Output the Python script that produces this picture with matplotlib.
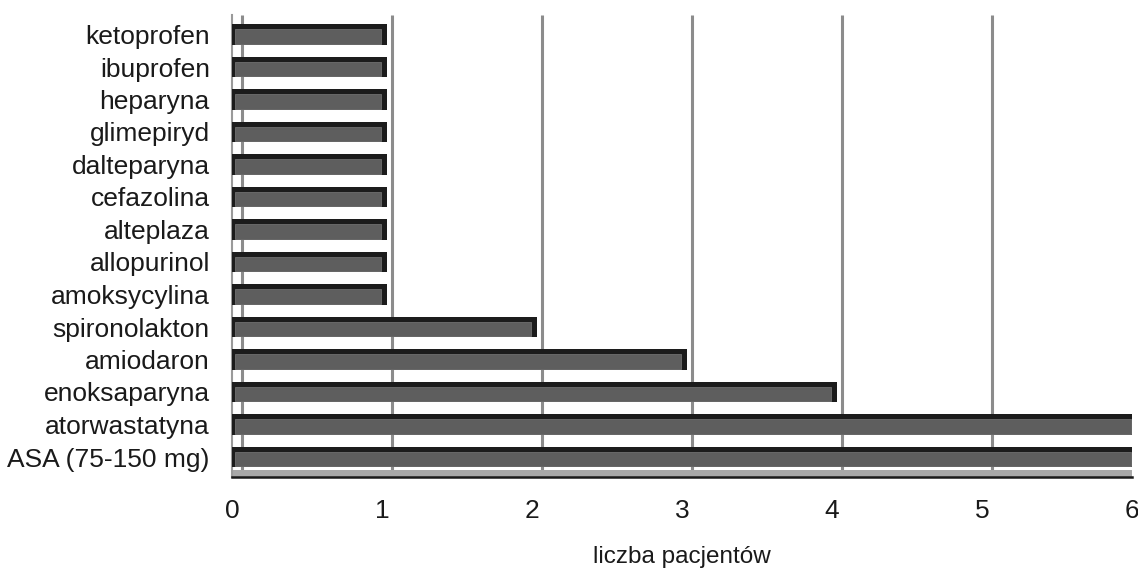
import numpy as np
import matplotlib.pyplot as plt
from matplotlib.patches import Rectangle
import matplotlib.transforms as mtransforms

# data, listed bottom to top as drawn
drugs = ['ASA (75-150 mg)', 'atorwastatyna', 'enoksaparyna', 'amiodaron',
         'spironolakton', 'amoksycylina', 'allopurinol', 'alteplaza',
         'cefazolina', 'dalteparyna', 'glimepiryd', 'heparyna',
         'ibuprofen', 'ketoprofen']
patients = [6, 6, 4, 3, 2, 1, 1, 1, 1, 1, 1, 1, 1, 1]
xticks = [0, 1, 2, 3, 4, 5, 6]

plt.rcParams['font.family'] = ['Liberation Sans', 'DejaVu Sans']

fig = plt.figure(figsize=(11.38, 5.74), dpi=100)
W, H = 1138, 574
ax = fig.add_axes([232 / W, (H - 476.5) / H, 900 / W, 461.5 / H])

y = np.arange(len(drugs))
vals = np.array(patients, dtype=float)

# back-wall gridlines, shifted right a bit like the 3D chart
shift = mtransforms.offset_copy(ax.transData, fig=fig, x=10, y=0, units='dots')
for v in xticks[:-1]:
    ax.plot([v, v], [-0.45, len(drugs) - 0.4], color='#8c8c8c', lw=2.2,
            transform=shift, zorder=1, solid_capstyle='butt')

# floor band
ax.add_patch(Rectangle((0, 0), 1, 0.015, transform=ax.transAxes,
                       facecolor='#a8a8a8', edgecolor='none', zorder=1))

# bars: dark outer body, lighter front face
ax.barh(y, vals + 0.03, left=0.0, height=0.62, color='#1c1c1c', zorder=3)
ax.barh(y - 0.06, vals - 0.03, left=0.02, height=0.44, color='#5e5e5e',
        edgecolor='#707070', linewidth=0.6, zorder=4)

ax.set_xlim(0, 6)
ax.set_ylim(-0.6, len(drugs) - 0.4)
ax.set_xticks(xticks)
ax.set_yticks(y)
ax.set_yticklabels(drugs)
ax.tick_params(axis='both', length=0, labelsize=19, colors='#1a1a1a')
ax.tick_params(axis='x', pad=16)
ax.tick_params(axis='y', pad=16)
ax.set_xlabel('liczba pacjentów', fontsize=17.5, color='#1a1a1a', labelpad=17)

for s in ['top', 'right']:
    ax.spines[s].set_visible(False)
ax.spines['left'].set_color('#9a9a9a')
ax.spines['left'].set_linewidth(1.5)
ax.spines['bottom'].set_color('#1a1a1a')
ax.spines['bottom'].set_linewidth(1.8)

fig.savefig('out.png', dpi=100)
